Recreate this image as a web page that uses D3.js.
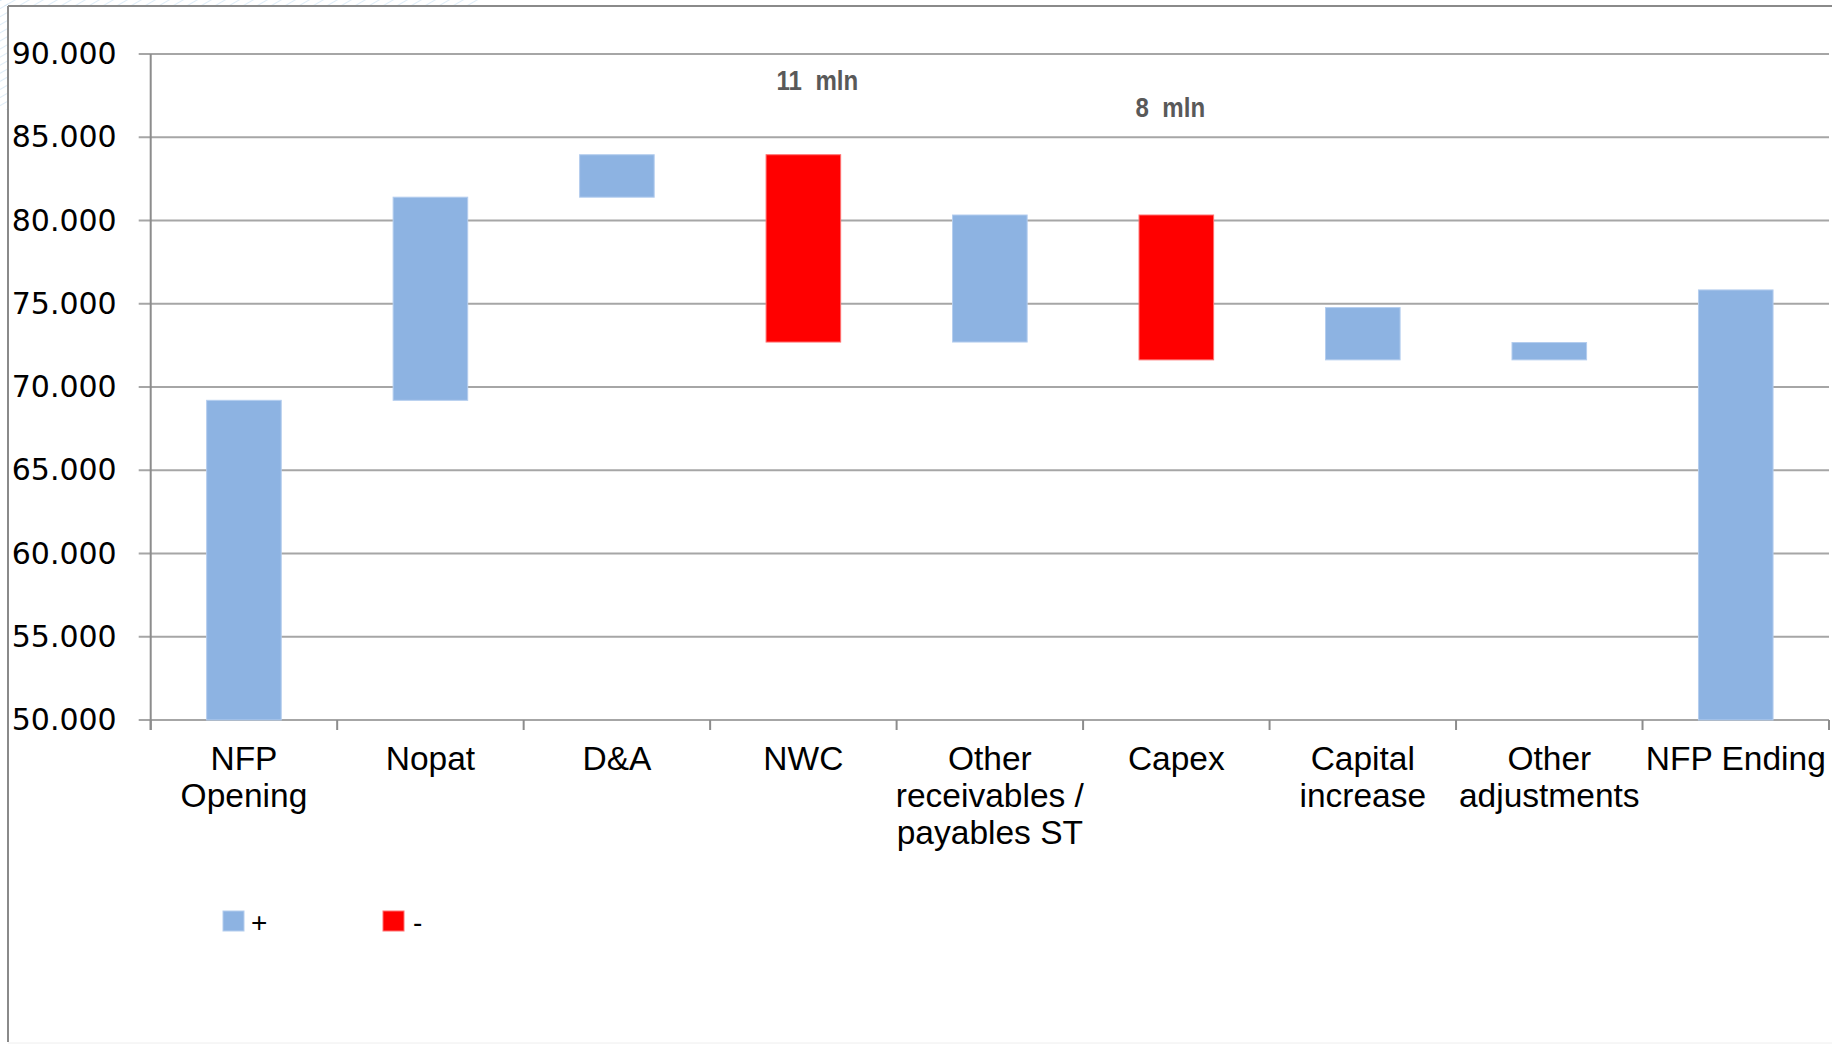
<html>
<head>
    <meta http-equiv="Content-Type" content="text/html;charset=utf-8">
    <script src="https://cdn.jsdelivr.net/npm/d3@7"></script>
    <style>
        body { margin: 0; background: #fff; }
        svg { display: block; }
        .ylab text { font-family: "DejaVu Sans", Verdana, sans-serif; font-size: 30px; fill: #000; }
        .cat { font-family: "Liberation Sans", Arial, sans-serif; font-size: 33.5px; fill: #000; }
        .note { font-family: "Liberation Sans", Arial, sans-serif; font-weight: bold;
                font-size: 28px; fill: #595959; white-space: pre; }
        .leg { font-family: "Liberation Sans", Arial, sans-serif; font-size: 28px; fill: #000; }
    </style>
    <title>NFP bridge</title>
</head>
<body>
<div id="chart"></div>
<script>
// categories of the bridge, "\n" marks a line break in the axis label
var categories = ["NFP\nOpening", "Nopat", "D&A", "NWC", "Other\nreceivables /\npayables ST",
                  "Capex", "Capital\nincrease", "Other\nadjustments", "NFP Ending"];
// floating bars: bottom and top value of each step
var barLow  = [50000, 69200, 81400, 72700, 72700, 71630, 71630, 71630, 50000];
var barHigh = [69200, 81400, 83950, 83950, 80330, 80330, 74770, 72670, 75830];
// + = increase, - = decrease
var barSign = ["+", "+", "+", "-", "+", "-", "+", "+", "+"];
var yTicks = [50000, 55000, 60000, 65000, 70000, 75000, 80000, 85000, 90000];
var notes = [{cat: "NWC", text: "11  mln"}, {cat: "Capex", text: "8  mln"}];
var legendItems = ["+", "-"];

var W = 1832, H = 1045;
var margin = {top: 54, left: 150.7, right: 3, bottom: 325};
var width = W - margin.left - margin.right,
    height = H - margin.top - margin.bottom;
var colors = {"+": "#8DB3E2", "-": "#FF0000"};
var strokes = {"+": "#B4CDEE", "-": "#FF7070"};

var svg = d3.select("#chart").append("svg")
    .attr("width", W).attr("height", H);

// faint slide background in the corner
var defs = svg.append("defs");
var pat = defs.append("pattern").attr("id", "hatch")
    .attr("width", 7).attr("height", 7)
    .attr("patternUnits", "userSpaceOnUse")
    .attr("patternTransform", "rotate(60)");
pat.append("line").attr("x1", 0).attr("y1", 0).attr("x2", 0).attr("y2", 7)
    .attr("stroke", "#d3e6f5").attr("stroke-width", 1.5);
svg.append("rect").attr("x", 0).attr("y", 0).attr("width", 480).attr("height", 6).attr("fill", "url(#hatch)");
svg.append("rect").attr("x", 0).attr("y", 0).attr("width", 8).attr("height", 110).attr("fill", "url(#hatch)");

// frame
svg.append("line").attr("x1", 8).attr("x2", W).attr("y1", 6).attr("y2", 6)
    .attr("stroke", "#8a8a8a").attr("stroke-width", 2);
svg.append("line").attr("x1", 8).attr("x2", 8).attr("y1", 6).attr("y2", H - 3)
    .attr("stroke", "#8a8a8a").attr("stroke-width", 2);
svg.append("line").attr("x1", 8).attr("x2", W).attr("y1", H - 2).attr("y2", H - 2)
    .attr("stroke", "#eeeeee").attr("stroke-width", 1);

var g = svg.append("g")
    .attr("transform", "translate(" + margin.left + "," + margin.top + ")");

var x = d3.scaleBand().domain(categories).range([0, width])
    .paddingInner(0.6).paddingOuter(0.3);
var y = d3.scaleLinear().domain([50000, 90000]).range([height, 0]);

var fmt = d3.formatLocale({decimal: ",", thousands: ".", grouping: [3], currency: ["", ""]}).format(",.0f");

// gridlines
g.append("g").selectAll("line").data(yTicks).join("line")
    .attr("x1", -12).attr("x2", width)
    .attr("y1", function(d){ return y(d); }).attr("y2", function(d){ return y(d); })
    .attr("stroke", "#a6a6a6").attr("stroke-width", 2);

// y axis
var yAxis = g.append("g").attr("class", "ylab")
    .call(d3.axisLeft(y).tickValues(yTicks).tickFormat(fmt).tickSize(0).tickPadding(34));
yAxis.select(".domain").remove();
g.append("line").attr("x1", 0).attr("x2", 0).attr("y1", 0).attr("y2", height + 10)
    .attr("stroke", "#8c8c8c").attr("stroke-width", 2);

// x ticks at category borders
var borders = d3.range(categories.length + 1);
g.append("g").selectAll("line").data(borders).join("line")
    .attr("x1", function(i){ return i * x.step(); })
    .attr("x2", function(i){ return i * x.step(); })
    .attr("y1", height).attr("y2", height + 10)
    .attr("stroke", "#8c8c8c").attr("stroke-width", 2);

// bars
g.append("g").selectAll("rect").data(categories).join("rect")
    .attr("x", function(d){ return x(d); })
    .attr("width", x.bandwidth())
    .attr("y", function(d, i){ return y(barHigh[i]); })
    .attr("height", function(d, i){ return y(barLow[i]) - y(barHigh[i]); })
    .attr("fill", function(d, i){ return colors[barSign[i]]; })
    .attr("stroke", function(d, i){ return strokes[barSign[i]]; })
    .attr("stroke-width", 1);

// category labels
var labels = g.append("g").selectAll("text").data(categories).join("text")
    .attr("class", "cat")
    .attr("text-anchor", "middle")
    .attr("transform", function(d){ return "translate(" + (x(d) + x.bandwidth() / 2) + "," + (height + 50) + ")"; });
labels.selectAll("tspan").data(function(d){ return d.split("\n"); }).join("tspan")
    .attr("x", 0)
    .attr("dy", function(d, i){ return i === 0 ? 0 : 37; })
    .text(function(d){ return d; });

// change notes (narrow bold face, squeezed horizontally)
g.append("g").selectAll("text").data(notes).join("text")
    .attr("class", "note")
    .attr("text-anchor", "middle")
    .attr("transform", function(d, i){
        var cx = x(d.cat) + x.bandwidth() / 2 + (i === 0 ? 14 : -6);
        return "translate(" + cx + "," + (36 + i * 27) + ") scale(0.86,1)";
    })
    .text(function(d){ return d.text; });

// legend
var leg = svg.append("g").attr("transform", "translate(223,911)");
var li = leg.selectAll("g").data(legendItems).join("g")
    .attr("transform", function(d, i){ return "translate(" + (i * 160) + ",0)"; });
li.append("rect").attr("width", 21).attr("height", 20)
    .attr("fill", function(d){ return colors[d]; })
    .attr("stroke", function(d){ return strokes[d]; });
li.append("text").attr("class", "leg")
    .attr("x", function(d){ return d === "+" ? 28 : 30; })
    .attr("y", 21)
    .text(function(d){ return d; });
</script>
</body>
</html>
